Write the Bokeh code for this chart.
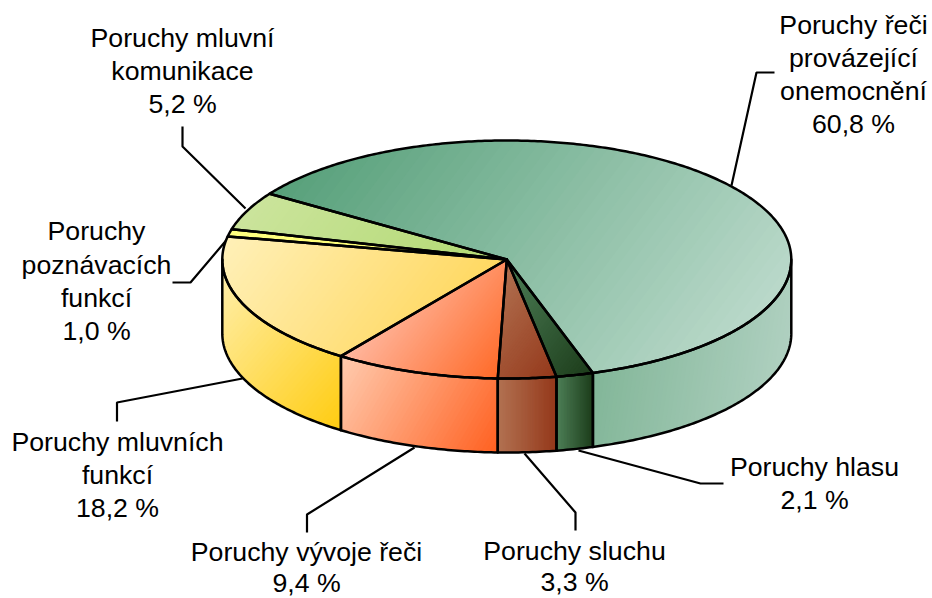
import math
from bokeh.plotting import figure
from bokeh.core.properties import value
from bokeh.embed import file_html
from bokeh.resources import INLINE

# --- data ---
categories = ["Poruchy řeči provázející onemocnění", "Poruchy hlasu", "Poruchy sluchu",
              "Poruchy vývoje řeči", "Poruchy mluvních funkcí", "Poruchy poznávacích funkcí",
              "Poruchy mluvní komunikace"]
shares = [60.8, 2.1, 3.3, 9.4, 18.2, 1.0, 5.2]
label_lines = [["Poruchy řeči", "provázející", "onemocnění"], ["Poruchy hlasu"], ["Poruchy sluchu"],
               ["Poruchy vývoje řeči"], ["Poruchy mluvních", "funkcí"],
               ["Poruchy", "poznávacích", "funkcí"], ["Poruchy mluvní", "komunikace"]]
# --- style ---
top_colors = [("#57A07A", "#BAD9CA"), ("#4E8058", "#1C3C1A"), ("#B27252", "#94381A"),
              ("#FFB8A0", "#FF6A28"), ("#FFF0B8", "#FFD860"), ("#FFFF80", "#FFFF70"),
              ("#CBE49C", "#B2D972")]
side_colors = [("#82B698", "#AFD0C0"), ("#4E8058", "#1C3C1A"), ("#B27252", "#94381A"),
               ("#FFCCB0", "#FF6020"), ("#FFF0B0", "#FFCC10"), ("#FFFF80", "#FFFF70"),
               ("#CBE49C", "#B2D972")]
top_dirs = (0.8, 0.6)
side_dirs = [(1, 0.15), (1, 0), (1, 0), (0.85, 0.5), (0.75, 0.65), (1, 0), (1, 0)]
CX, CY, RX, RY, DEPTH = 506.3, 259.0, 284.5, 119.0, 74.0
START = -56.5
FS = "26.7px"
label_x = [853, 814, 574, 306, 117, 96, 182]
label_y = [[24, 57, 90], [466], [550], [551], [441, 474], [230, 264, 297], [37, 70]]
value_gap = [33, 33, 31, 31, 33, 33, 33]
leaders = [[(731, 185), (756, 72), (774, 72)], [(578, 450), (700, 483), (723, 483)],
           [(524, 453), (575, 512), (575, 530)], [(414, 447), (306.5, 514), (306.5, 532)],
           [(242, 378), (116.5, 402), (116.5, 421)], [(229, 236), (190, 282), (172, 282)],
           [(245, 208), (182, 146), (182, 126)]]


def pt(a, dy=0.0):
    r = math.radians(a)
    return (CX + RX * math.sin(r), CY - RY * math.cos(r) + dy)


def arc(a0, a1, dy=0.0):
    n = max(2, int(abs(a1 - a0) * 1.5))
    return [pt(a0 + (a1 - a0) * i / n, dy) for i in range(n + 1)]


def clip(poly, d, lim):
    out = []
    for i in range(len(poly)):
        a, b = poly[i], poly[(i + 1) % len(poly)]
        va = a[0] * d[0] + a[1] * d[1] - lim
        vb = b[0] * d[0] + b[1] * d[1] - lim
        if va >= 0:
            out.append(a)
        if (va >= 0) != (vb >= 0):
            t = va / (va - vb)
            out.append((a[0] + (b[0] - a[0]) * t, a[1] + (b[1] - a[1]) * t))
    return out


def hex2(c):
    return [int(c[i:i + 2], 16) for i in (1, 3, 5)]


def gradient_face(poly, pair, d, n=48):
    # painter's layering: each band runs to the far end of the face, so there are no seams
    nrm = math.hypot(*d)
    d = (d[0] / nrm, d[1] / nrm)
    pr = [p[0] * d[0] + p[1] * d[1] for p in poly]
    lo, hi = min(pr), max(pr)
    c0, c1 = hex2(pair[0]), hex2(pair[1])
    xs, ys, cols = [], [], []
    for i in range(n):
        q = clip(poly, d, lo + (hi - lo) * i / n) if i else poly
        if len(q) < 3:
            continue
        t = (i + 0.5) / n
        cols.append("#%02x%02x%02x" % tuple(round(u + (v - u) * t) for u, v in zip(c0, c1)))
        xs.append([p[0] for p in q])
        ys.append([p[1] for p in q])
    return xs, ys, cols


p = figure(width=932, height=598, x_range=(0, 932), y_range=(598, 0),
           output_backend="svg", toolbar_location=None, min_border=0,
           x_axis_location=None, y_axis_location=None, outline_line_color=None)
p.grid.visible = False
p.background_fill_color = "white"

for seg in leaders:
    p.line([q[0] for q in seg], [q[1] for q in seg], line_color="black", line_width=2.2)

# slice angles
bounds = [START]
for s in shares:
    bounds.append(bounds[-1] + s * 3.6)

fx, fy, fc, ox, oy = [], [], [], [], []
# side walls (only the front half of the rim is visible)
for k in range(len(shares)):
    a0, a1 = bounds[k], bounds[k + 1]
    a0v, a1v = max(a0, 90.0), min(a1, 270.0)
    if a1v <= a0v:
        continue
    poly = arc(a0v, a1v) + arc(a1v, a0v, DEPTH)
    x, y, c = gradient_face(poly, side_colors[k], side_dirs[k])
    fx += x; fy += y; fc += c
    ox.append([q[0] for q in poly]); oy.append([q[1] for q in poly])
# top faces
for k in range(len(shares)):
    poly = [(CX, CY)] + arc(bounds[k], bounds[k + 1])
    x, y, c = gradient_face(poly, top_colors[k], top_dirs)
    fx += x; fy += y; fc += c
    ox.append([q[0] for q in poly]); oy.append([q[1] for q in poly])

p.patches(fx, fy, fill_color=fc, line_color=None)
p.patches(ox, oy, fill_alpha=0, line_color="black", line_width=2.5, line_join="round")

tx, ty, tt = [], [], []
for k, lines in enumerate(label_lines):
    for s, yy in zip(lines, label_y[k]):
        tx.append(label_x[k]); ty.append(yy); tt.append(s)
    tx.append(label_x[k])
    ty.append(label_y[k][-1] + value_gap[k])
    tt.append(f"{shares[k]:.1f}".replace(".", ",") + " %")
p.text(tx, ty, text=tt, text_font=value("Liberation Sans"), text_font_size=FS,
       text_align="center", text_baseline="alphabetic", text_color="#000000")

open("out.html", "w").write(file_html(p, INLINE))
